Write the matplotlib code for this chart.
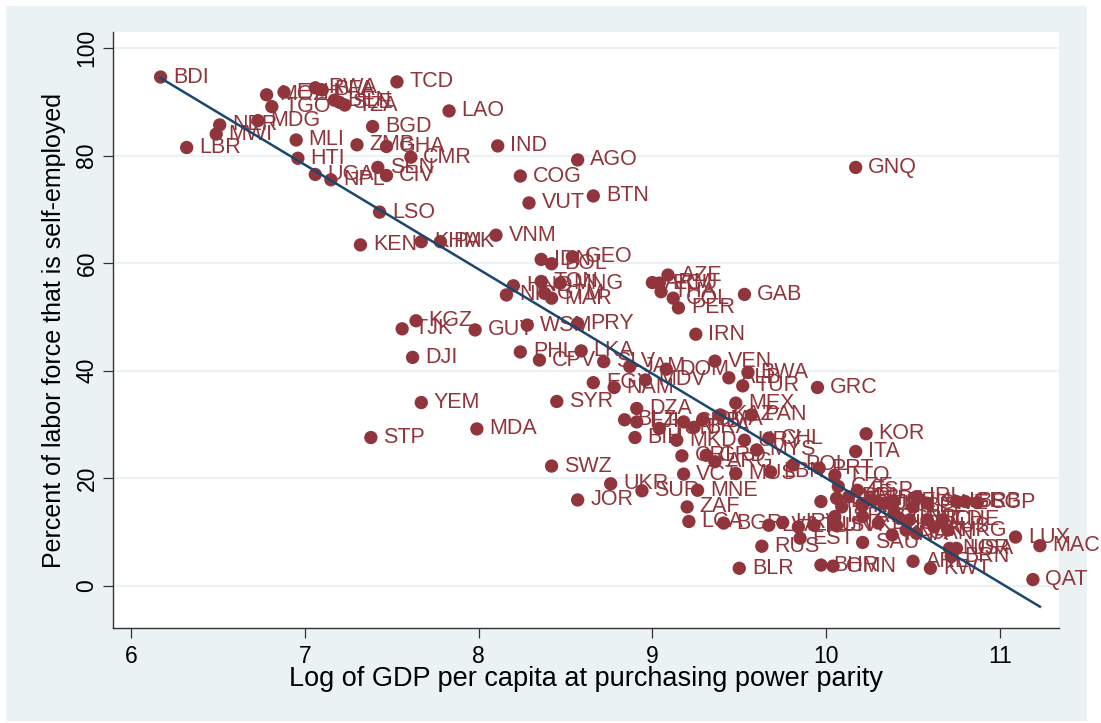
import numpy as np
import matplotlib
matplotlib.use("Agg")
import matplotlib.pyplot as plt
from matplotlib.patches import Rectangle

# country codes, log GDP per capita (PPP), percent self-employed
codes = ["BDI", "LBR", "MWI", "NER", "MDG", "TGO", "MOZ", "ETH", "RWA", "BFA",
         "BEN", "SLE", "TZA", "TCD", "LAO", "BGD", "MLI", "ZMB", "GHA", "CMR",
         "HTI", "SEN", "CIV", "UGA", "NPL", "LSO", "KEN", "KHM", "PAK", "KGZ",
         "TJK", "GUY", "DJI", "YEM", "STP", "MDA", "IND", "AGO", "GNQ", "COG",
         "VUT", "BTN", "VNM", "IDN", "GEO", "BOL", "HND", "NIC", "TON", "MNG",
         "GTM", "MAR", "AZE", "ARM", "ECU", "THA", "COL", "PER", "GAB", "WSM",
         "PRY", "IRN", "PHL", "CPV", "LKA", "SLV", "JAM", "DOM", "VEN", "MDV",
         "EGY", "NAM", "SYR", "ALB", "BWA", "TUR", "GRC", "MEX", "DZA", "BLZ",
         "FJI", "TUN", "SRB", "BRA", "DMA", "KAZ", "PAN", "BIH", "MKD", "URY",
         "CHL", "KOR", "ITA", "CRI", "GRD", "ARG", "MYS", "POL", "PRT", "SWZ",
         "VCT", "MUS", "LBN", "UKR", "SUR", "MNE", "JOR", "ZAF", "LCA", "BGR",
         "LVA", "HRV", "LTU", "HUN", "SVK", "EST", "RUS", "BLR", "BHR", "OMN",
         "TTO", "CZE", "MLT", "SVN", "CYP", "ISR", "ESP", "PRI", "NZL", "ATG",
         "SAU", "BHS", "FRA", "JPN", "DEU", "FIN", "GBR", "KNA", "IRL", "BEL",
         "AUT", "DNK", "CAN", "SWE", "NLD", "AUS", "CHE", "HKG", "ISL", "BRB",
         "SGP", "NOR", "USA", "BRN", "ARE", "KWT", "LUX", "MAC", "QAT"]

log_gdp = [6.17, 6.32, 6.49, 6.51, 6.73, 6.81, 6.78, 6.88, 7.06, 7.10,
           7.17, 7.20, 7.23, 7.53, 7.83, 7.39, 6.95, 7.30, 7.47, 7.61,
           6.96, 7.42, 7.47, 7.06, 7.15, 7.43, 7.32, 7.67, 7.78, 7.64,
           7.56, 7.98, 7.62, 7.67, 7.38, 7.99, 8.11, 8.57, 10.17, 8.24,
           8.29, 8.66, 8.10, 8.36, 8.54, 8.42, 8.20, 8.16, 8.36, 8.47,
           8.38, 8.42, 9.09, 9.00, 9.04, 9.05, 9.12, 9.15, 9.53, 8.28,
           8.57, 9.25, 8.24, 8.35, 8.59, 8.72, 8.87, 9.08, 9.36, 8.96,
           8.66, 8.78, 8.45, 9.44, 9.55, 9.52, 9.95, 9.48, 8.91, 8.84,
           8.91, 9.04, 9.18, 9.24, 9.29, 9.39, 9.57, 8.90, 9.14, 9.53,
           9.67, 10.23, 10.17, 9.17, 9.31, 9.36, 9.60, 9.81, 9.96, 8.42,
           9.18, 9.48, 9.68, 8.76, 8.94, 9.26, 8.57, 9.20, 9.21, 9.41,
           9.67, 9.75, 9.84, 9.93, 10.06, 9.85, 9.63, 9.50, 9.97, 10.04,
           10.05, 10.07, 9.97, 10.06, 10.09, 10.05, 10.18, 10.13, 10.21, 10.21,
           10.21, 10.30, 10.26, 10.33, 10.39, 10.39, 10.42, 10.38, 10.52, 10.50,
           10.48, 10.46, 10.52, 10.58, 10.58, 10.62, 10.67, 10.70, 10.75, 10.80,
           10.87, 10.71, 10.75, 10.72, 10.50, 10.60, 11.09, 11.23, 11.19]

self_emp = [94.6, 81.5, 84.0, 85.7, 86.5, 89.1, 91.3, 91.8, 92.6, 92.2,
            90.3, 89.9, 89.4, 93.7, 88.3, 85.4, 82.9, 82.0, 81.7, 79.7,
            79.5, 77.8, 76.3, 76.5, 75.5, 69.5, 63.4, 64.0, 64.0, 49.3,
            47.8, 47.6, 42.5, 34.1, 27.6, 29.2, 81.8, 79.2, 77.8, 76.2,
            71.2, 72.5, 65.2, 60.7, 61.2, 59.9, 55.8, 54.1, 56.6, 56.3,
            54.4, 53.5, 57.8, 56.4, 56.3, 54.7, 53.5, 51.7, 54.2, 48.5,
            48.8, 46.8, 43.5, 42.0, 43.7, 41.7, 40.8, 40.3, 41.8, 38.3,
            37.8, 36.9, 34.3, 38.7, 39.7, 37.2, 36.9, 34.0, 33.0, 30.9,
            30.5, 29.3, 30.5, 29.5, 31.0, 31.8, 31.8, 27.6, 27.1, 27.1,
            27.5, 28.3, 25.0, 24.2, 24.3, 23.1, 25.3, 22.5, 21.9, 22.3,
            20.8, 20.9, 21.2, 19.0, 17.7, 17.8, 16.0, 14.7, 12.0, 11.7,
            11.3, 11.8, 11.0, 11.3, 11.2, 8.9, 7.4, 3.3, 3.9, 3.7,
            20.6, 18.5, 15.7, 16.3, 14.7, 12.9, 17.8, 16.6, 15.1, 12.9,
            8.1, 11.7, 16.0, 15.4, 15.7, 13.5, 12.6, 9.5, 16.6, 14.7,
            12.3, 10.4, 9.8, 15.4, 12.3, 11.0, 12.3, 10.4, 15.7, 15.7,
            15.5, 7.0, 7.0, 5.5, 4.6, 3.3, 9.1, 7.5, 1.2]

x = np.array(log_gdp)
y = np.array(self_emp)

maroon = "#90353B"
navy = "#1A476F"
bg = "#EAF2F3"

plt.rcParams["font.family"] = ["Liberation Sans", "DejaVu Sans"]

fig = plt.figure(figsize=(11.01, 7.23), dpi=100, facecolor="white")
fig.patches.append(Rectangle((6 / 1101, 2 / 723), 1081 / 1101, 715 / 723,
                             transform=fig.transFigure, facecolor=bg,
                             edgecolor="none", zorder=-10))
ax = fig.add_axes([113 / 1101, 95 / 723, 946 / 1101, 596 / 723])
ax.set_facecolor("white")

ax.scatter(x, y, s=92, color=maroon, edgecolors="none", zorder=3)
for c, xi, yi in zip(codes, x, y):
    ax.annotate(c, (xi, yi), xytext=(9, 0), textcoords="offset points",
                ha="left", va="center", fontsize=15.5, color=maroon, zorder=3)

# linear fit
b, a = np.polyfit(x, y, 1)
xs = np.array([x.min(), x.max()])
ax.plot(xs, a + b * xs, color=navy, lw=1.8, zorder=4)

ax.set_xlim(5.896, 11.34)
ax.set_ylim(-7.8, 102.97)
ax.set_xticks([6, 7, 8, 9, 10, 11])
ax.set_yticks([0, 20, 40, 60, 80, 100])
ax.yaxis.grid(True, color=bg, lw=1.5)
ax.set_axisbelow(True)
for s in ["top", "right"]:
    ax.spines[s].set_visible(False)
for s in ["left", "bottom"]:
    ax.spines[s].set_color("#333333")
    ax.spines[s].set_linewidth(1.0)
ax.tick_params(axis="both", direction="out", length=7, width=0.9,
               labelsize=16.5, colors="#333333", labelcolor="black")
ax.tick_params(axis="x", pad=5)
ax.tick_params(axis="y", pad=3.5)
for lbl in ax.get_yticklabels():
    lbl.set_rotation(90)
    lbl.set_va("center")

ax.set_xlabel("Log of GDP per capita at purchasing power parity", fontsize=19.5)
ax.set_ylabel("Percent of labor force that is self-employed", fontsize=18)
ax.xaxis.set_label_coords(0.5, -0.064)
ax.yaxis.set_label_coords(-0.05, 0.5)

fig.savefig("out.png", dpi=100, facecolor="white")
